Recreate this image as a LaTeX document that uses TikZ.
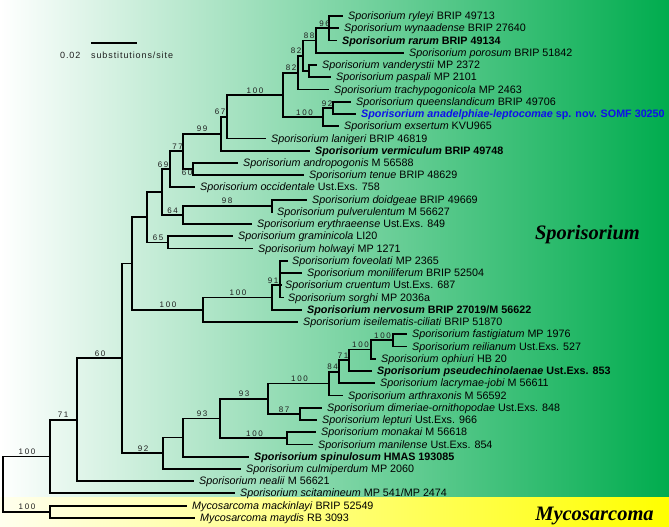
\documentclass[tikz,border=0pt]{standalone}
\usepackage{fontspec}
\setmainfont{Liberation Sans}
\newfontfamily\lblfont[LetterSpace=20]{Liberation Sans}
\newfontfamily\scfont[LetterSpace=10]{Liberation Sans}
\newfontfamily\cladefont{Liberation Serif}
\definecolor{bggreen}{RGB}{0,172,78}
\definecolor{bgyellow}{RGB}{255,255,0}
\definecolor{paleyellow}{RGB}{255,255,238}
\definecolor{newblue}{RGB}{15,15,235}
\definecolor{lblgray}{RGB}{30,30,30}
\newcommand\spn[1]{\textit{#1}}
\newcommand\lf[5]{\coordinate (#1) at (#3,#2); \node[leaf] (t#1) at (#4,#2) {#5};}
\newcommand\inode[3]{\coordinate (#1) at (#2,#3);}
\newcommand\kids[2]{\foreach \c in {#2}{\draw[br] (#1) |- (\c);}}
\tikzset{
  br/.style={line width=1.8pt, black},
  leaf/.style={anchor=base west, inner sep=0pt, yshift=-3.6pt, font=\fontsize{10.75}{12}\selectfont},
  supl/.style={anchor=base, inner sep=0pt, yshift=1.8pt, text=lblgray, font=\lblfont\fontsize{8}{9}\selectfont},
  clade/.style={anchor=base, inner sep=0pt, font=\cladefont\fontsize{20.5}{24}\selectfont\bfseries\itshape},
  scl/.style={anchor=base west, inner sep=0pt, text=lblgray, font=\scfont\fontsize{9}{11}\selectfont}
}
\begin{document}
\begin{tikzpicture}[x=1pt,y=-1pt]
\useasboundingbox (0,0) rectangle (669,527);
\fill[left color=white, right color=bggreen] (0,0) rectangle (669,497);
\fill[left color=paleyellow, right color=bgyellow] (0,497) rectangle (669,527);

% leaves
\lf{l1}{16.00}{343}{348}{\spn{Sporisorium ryleyi} BRIP 49713}
\lf{l2}{28.24}{339}{344}{\spn{Sporisorium wynaadense} BRIP 27640}
\lf{l3}{40.48}{337}{342}{\bfseries\spn{Sporisorium rarum} BRIP 49134}
\lf{l4}{52.72}{404}{409}{\spn{Sporisorium porosum} BRIP 51842}
\lf{l5}{64.96}{317}{322}{\spn{Sporisorium vanderystii} MP 2372}
\lf{l6}{77.20}{331}{336}{\spn{Sporisorium paspali} MP 2101}
\lf{l7}{89.44}{329}{334}{\spn{Sporisorium trachypogonicola} MP 2463}
\lf{l8}{101.68}{351}{356}{\spn{Sporisorium queenslandicum} BRIP 49706}
\lf{l9}{113.92}{356}{361}{\color{newblue}\bfseries\spn{Sporisorium anadelphiae-leptocomae} sp. nov. SOMF 30250}
\lf{l10}{126.16}{339}{344}{\spn{Sporisorium exsertum} KVU965}
\lf{l11}{138.40}{266}{271}{\spn{Sporisorium lanigeri} BRIP 46819}
\lf{l12}{150.64}{310}{315}{\bfseries\spn{Sporisorium vermiculum} BRIP 49748}
\lf{l13}{162.88}{238}{243}{\spn{Sporisorium andropogonis} M 56588}
\lf{l14}{175.12}{304}{309}{\spn{Sporisorium tenue} BRIP 48629}
\lf{l15}{187.36}{195}{200}{\spn{Sporisorium occidentale} Ust.Exs. 758}
\lf{l16}{199.60}{307}{312}{\spn{Sporisorium doidgeae} BRIP 49669}
\lf{l17}{211.84}{273}{277}{\spn{Sporisorium pulverulentum} M 56627}
\lf{l18}{224.08}{252}{257}{\spn{Sporisorium erythraeense} Ust.Exs. 849}
\lf{l19}{236.32}{233}{238}{\spn{Sporisorium graminicola} LI20}
\lf{l20}{248.56}{253}{258}{\spn{Sporisorium holwayi} MP 1271}
\lf{l21}{260.80}{288}{292}{\spn{Sporisorium foveolati} MP 2365}
\lf{l22}{273.04}{302}{307}{\spn{Sporisorium moniliferum} BRIP 52504}
\lf{l23}{285.28}{282}{285}{\spn{Sporisorium cruentum} Ust.Exs. 687}
\lf{l24}{297.52}{284}{288}{\spn{Sporisorium sorghi} MP 2036a}
\lf{l25}{309.76}{302}{307}{\bfseries\spn{Sporisorium nervosum} BRIP 27019/M 56622}
\lf{l26}{322.00}{298}{303}{\spn{Sporisorium iseilematis-ciliati} BRIP 51870}
\lf{l27}{334.24}{407}{412}{\spn{Sporisorium fastigiatum} MP 1976}
\lf{l28}{346.48}{407}{412}{\spn{Sporisorium reilianum} Ust.Exs. 527}
\lf{l29}{358.72}{376}{381}{\spn{Sporisorium ophiuri} HB 20}
\lf{l30}{370.96}{372}{377}{\bfseries\spn{Sporisorium pseudechinolaenae} Ust.Exs. 853}
\lf{l31}{383.20}{375}{380}{\spn{Sporisorium lacrymae-jobi} M 56611}
\lf{l32}{395.44}{343}{348}{\spn{Sporisorium arthraxonis} M 56592}
\lf{l33}{407.68}{322}{327}{\spn{Sporisorium dimeriae-ornithopodae} Ust.Exs. 848}
\lf{l34}{419.92}{317}{322}{\spn{Sporisorium lepturi} Ust.Exs. 966}
\lf{l35}{432.16}{316}{321}{\spn{Sporisorium monakai} M 56618}
\lf{l36}{444.40}{313}{318}{\spn{Sporisorium manilense} Ust.Exs. 854}
\lf{l37}{456.64}{249}{254}{\bfseries\spn{Sporisorium spinulosum} HMAS 193085}
\lf{l38}{468.88}{241}{246}{\spn{Sporisorium culmiperdum} MP 2060}
\lf{l39}{481.12}{194}{199}{\spn{Sporisorium nealii} M 56621}
\lf{l40}{493.36}{235}{240}{\spn{Sporisorium scitamineum} MP 541/MP 2474}
\lf{l41}{505.60}{187}{192}{\spn{Mycosarcoma mackinlayi} BRIP 52549}
\lf{l42}{517.84}{195}{200}{\spn{Mycosarcoma maydis} RB 3093}

% internal nodes
\inode{n96}{329}{28.24}
\inode{n88}{316}{40.48}
\inode{nVP}{309}{71.08}
\inode{nC}{303}{55.78}
\inode{nB}{298}{72.61}
\inode{n92s}{333}{107.80}
\inode{nQ}{323}{116.98}
\inode{nA}{283}{94.80}
\inode{n67}{227}{116.60}
\inode{n99}{221}{133.62}
\inode{n60a}{193}{169.00}
\inode{n77}{183}{151.31}
\inode{n69}{170}{169.34}
\inode{n98}{272}{205.72}
\inode{n64}{183}{214.90}
\inode{nZ}{162}{192.12}
\inode{n65}{168}{242.44}
\inode{nY}{147}{217.28}
\inode{n91}{280}{285.28}
\inode{n100b}{272}{297.52}
\inode{n100N}{203}{309.76}
\inode{nX}{132}{263.52}
\inode{n393}{393}{340.36}
\inode{n371}{371}{349.54}
\inode{n349}{349}{360.25}
\inode{n339}{339}{371.73}
\inode{n328}{329}{383.58}
\inode{n300}{300}{413.80}
\inode{n268}{268}{398.69}
\inode{n287}{287}{438.28}
\inode{n220}{220}{418.49}
\inode{n183}{183}{437.56}
\inode{n163}{163}{453.22}
\inode{n60b}{122}{358.37}
\inode{n71}{77}{419.75}
\inode{nS}{50}{456.55}
\inode{nM}{50}{511.72}
\inode{root}{3}{484.14}

% branches
\kids{n96}{l1,l2,l3}
\kids{n88}{n96,l4}
\kids{nVP}{l5,l6}
\kids{nC}{n88,nVP}
\kids{nB}{nC,l7}
\kids{n92s}{l8,l9}
\kids{nQ}{n92s,l10}
\kids{nA}{nB,nQ}
\kids{n67}{nA,l11}
\kids{n99}{n67,l12}
\kids{n60a}{l13,l14}
\kids{n77}{n99,n60a}
\kids{n69}{n77,l15}
\kids{n98}{l16,l17}
\kids{n64}{n98,l18}
\kids{nZ}{n69,n64}
\kids{n65}{l19,l20}
\kids{nY}{nZ,n65}
\kids{n91}{l21,l22,l23,l24}
\kids{n100b}{n91,l25}
\kids{n100N}{n100b,l26}
\kids{nX}{nY,n100N}
\kids{n393}{l27,l28}
\kids{n371}{n393,l29}
\kids{n349}{n371,l30}
\kids{n339}{n349,l31}
\kids{n328}{n339,l32}
\kids{n300}{l33,l34}
\kids{n268}{n328,n300}
\kids{n287}{l35,l36}
\kids{n220}{n268,n287}
\kids{n183}{n220,l37}
\kids{n163}{n183,l38}
\kids{n60b}{nX,n163}
\kids{n71}{n60b,l39}
\kids{nS}{n71,l40}
\kids{nM}{l41,l42}
\kids{root}{nS,nM}

% support values
\node[supl] (s96) at (324.5,28.24) {96};
\node[supl] (s88) at (309,40.48) {88};
\node[supl] (s82a) at (296,55.78) {82};
\node[supl] (s82b) at (291,72.61) {82};
\node[supl] (s100a) at (255,94.80) {100};
\node[supl] (s92s) at (327,107.80) {92};
\node[supl] (s100q) at (304.5,116.98) {100};
\node[supl] (s67) at (220,116.60) {67};
\node[supl] (s99) at (202,133.62) {99};
\node[supl] (s77) at (177.5,151.31) {77};
\node[supl, yshift=0pt] (s60a) at (187,177) {60};
\node[supl] (s69) at (163,169.34) {69};
\node[supl] (s98) at (227,205.72) {98};
\node[supl] (s64) at (172.5,214.90) {64};
\node[supl] (s65) at (158,242.44) {65};
\node[supl] (s91) at (273,285.28) {91};
\node[supl] (s100b) at (238,297.52) {100};
\node[supl] (s100n) at (168,309.76) {100};
\node[supl] (s100e) at (382.5,340.36) {100};
\node[supl] (s100f) at (360.5,349.54) {100};
\node[supl] (s71b) at (343,360.25) {71};
\node[supl] (s84) at (332.5,371.73) {84};
\node[supl] (s100g) at (299.5,383.58) {100};
\node[supl] (s93b) at (244,398.69) {93};
\node[supl] (s87) at (284,413.80) {87};
\node[supl] (s93a) at (202,418.49) {93};
\node[supl] (s100h) at (254.5,438.28) {100};
\node[supl] (s92) at (143,453.22) {92};
\node[supl] (s60b) at (100,358.37) {60};
\node[supl] (s71) at (63,419.75) {71};
\node[supl] (s100s) at (27,456.55) {100};
\node[supl] (s100m) at (27,511.72) {100};

% scale bar
\coordinate (sb1) at (91,43);
\coordinate (sb2) at (137,43);
\draw[br] (sb1) -- (sb2);
\node[scl] (sbn) at (60,58.5) {0.02};
\node[scl] (sbt) at (91,58.5) {substitutions/site};

% clade names
\node[clade] (cs) at (587.5,239.5) {Sporisorium};
\node[clade] (cm) at (594.5,520) {Mycosarcoma};
\end{tikzpicture}
\end{document}
